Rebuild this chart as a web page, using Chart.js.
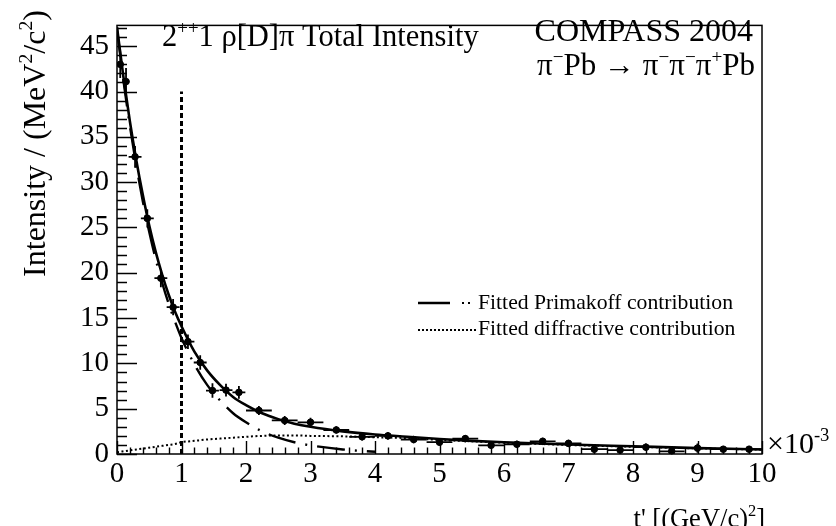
<!DOCTYPE html>
<html>
<head>
<meta charset="utf-8">
<script src="https://cdn.jsdelivr.net/npm/chart.js@4.4.1/dist/chart.umd.min.js"></script>
<style>
  body { margin: 0; background: #fff; }
  #c { display: block; }
</style>
</head>
<body>
<canvas id="c" width="836" height="526"></canvas>
<script>
// measured points, t' in units of 1e-3 (GeV/c)^2
const tValues = [0.05, 0.14, 0.28, 0.47, 0.68, 0.87, 1.1, 1.29, 1.48, 1.69, 1.89, 2.2, 2.6, 3.0, 3.4, 3.8,
  4.2, 4.6, 5.0, 5.4, 5.8, 6.2, 6.6, 7.0, 7.4, 7.8, 8.2, 8.6, 9.0, 9.4, 9.8];
const intensity = [43.0, 41.1, 32.8, 26.0, 19.4, 16.2, 12.4, 10.1, 7.0, 7.05, 6.8, 4.8, 3.7, 3.5, 2.65, 1.9,
  2.0, 1.6, 1.3, 1.7, 0.96, 1.07, 1.4, 1.17, 0.53, 0.43, 0.75, 0.3, 0.65, 0.53, 0.53];
const tErr = [0.05, 0.05, 0.1, 0.1, 0.1, 0.1, 0.1, 0.1, 0.1, 0.1, 0.1, 0.2, 0.2, 0.2, 0.2, 0.2,
  0.2, 0.2, 0.2, 0.2, 0.2, 0.2, 0.2, 0.2, 0.2, 0.2, 0.2, 0.2, 0.2, 0.2, 0.2];
const intensityErr = [1.5, 1.5, 1.2, 1.0, 1.0, 0.9, 0.8, 0.8, 0.8, 0.7, 0.7, 0.5, 0.5, 0.5, 0.4, 0.4,
  0.4, 0.4, 0.4, 0.4, 0.4, 0.4, 0.4, 0.4, 0.4, 0.35, 0.4, 0.35, 0.5, 0.35, 0.35];

// fitted curves
const fitT = [0, 0.1, 0.2, 0.3, 0.4, 0.5, 0.6, 0.7, 0.8, 0.9, 1.0, 1.2, 1.4, 1.6, 1.8, 2.0, 2.25, 2.5, 2.75,
  3.0, 3.5, 4.0, 4.5, 5.0, 5.5, 6.0, 7.0, 8.0, 9.0, 10.0];
const totalFit = [47.1, 41.6, 36.7, 32.4, 28.6, 25.2, 22.3, 19.8, 17.6, 15.7, 14.1, 11.3, 9.2, 7.6, 6.3, 5.4,
  4.5, 3.85, 3.35, 3.0, 2.5, 2.15, 1.9, 1.65, 1.45, 1.3, 1.05, 0.85, 0.65, 0.5];
const primakoffFit = [46.9, 41.2, 36.2, 31.8, 27.9, 24.5, 21.5, 18.9, 16.6, 14.6, 12.8, 9.9, 7.6, 5.9, 4.5,
  3.5, 2.5, 1.8, 1.3, 0.95, 0.5, 0.25];
const diffractiveFit = [0.2, 0.3, 0.4, 0.5, 0.6, 0.7, 0.8, 0.9, 1.0, 1.1, 1.3, 1.45, 1.6, 1.7, 1.8, 1.9, 2.0,
  2.05, 2.05, 2.0, 1.95, 1.85, 1.75, 1.55, 1.4, 1.25, 1.0, 0.8, 0.62, 0.48];

const xTicks = [0, 1, 2, 3, 4, 5, 6, 7, 8, 9, 10];
const yTicks = [0, 5, 10, 15, 20, 25, 30, 35, 40, 45];
const cutT = 1.0;
const cutTop = 40;

const serif = '"Liberation Serif", "DejaVu Serif", serif';

function toXY(xs, ys) {
  return ys.map((y, i) => ({ x: xs[i], y: y }));
}

// draw text with superscript pieces: parts = [[text, sup?], ...]
function drawRich(ctx, parts, x, y, size, align) {
  const small = size * 0.62;
  let w = 0;
  parts.forEach(p => {
    ctx.font = (p[1] ? small : size) + 'px ' + serif;
    w += ctx.measureText(p[0]).width;
  });
  let cx = align === 'right' ? x - w : x;
  ctx.textAlign = 'left';
  ctx.textBaseline = 'alphabetic';
  parts.forEach(p => {
    ctx.font = (p[1] ? small : size) + 'px ' + serif;
    ctx.fillText(p[0], cx, p[1] ? y - size * 0.4 : y);
    cx += ctx.measureText(p[0]).width;
  });
}

const rootStyle = {
  id: 'rootStyle',
  beforeDraw(chart) {
    const ctx = chart.ctx;
    ctx.save();
    ctx.fillStyle = '#fff';
    ctx.fillRect(0, 0, chart.width, chart.height);
    ctx.restore();
  },
  afterDatasetsDraw(chart) {
    const ctx = chart.ctx;
    const xs = chart.scales.x, ys = chart.scales.y;
    const a = chart.chartArea;
    ctx.save();
    ctx.strokeStyle = '#000';
    ctx.fillStyle = '#000';

    // error bars
    ctx.lineWidth = 1.8;
    tValues.forEach((t, i) => {
      const px = xs.getPixelForValue(t), py = ys.getPixelForValue(intensity[i]);
      ctx.beginPath();
      ctx.moveTo(xs.getPixelForValue(t - tErr[i]), py);
      ctx.lineTo(xs.getPixelForValue(t + tErr[i]), py);
      ctx.moveTo(px, ys.getPixelForValue(intensity[i] - intensityErr[i]));
      ctx.lineTo(px, ys.getPixelForValue(intensity[i] + intensityErr[i]));
      ctx.stroke();
    });

    // frame
    ctx.lineWidth = 1.5;
    ctx.strokeRect(a.left, a.top, a.right - a.left, a.bottom - a.top);

    // inner ticks
    ctx.lineWidth = 1.4;
    ctx.beginPath();
    for (let v = 0; v <= 10.001; v += 0.2) {
      const major = Math.abs(v - Math.round(v)) < 1e-6;
      const px = Math.round(xs.getPixelForValue(v)) + 0.5;
      ctx.moveTo(px, a.bottom);
      ctx.lineTo(px, a.bottom - (major ? 13 : 6.5));
    }
    for (let v = 0; v <= ys.max; v += 1) {
      const major = v % 5 === 0;
      const py = Math.round(ys.getPixelForValue(v)) + 0.5;
      ctx.moveTo(a.left, py);
      ctx.lineTo(a.left + (major ? 20 : 10), py);
    }
    ctx.stroke();

    // texts
    drawRich(ctx, [['2'], ['++', 1], ['1 ρ[D]π Total Intensity']], 162, 46, 30.5, 'left');
    drawRich(ctx, [['COMPASS 2004']], 753, 41, 32, 'right');
    drawRich(ctx, [['π'], ['−', 1], ['Pb → π'], ['−', 1], ['π'], ['−', 1], ['π'], ['+', 1], ['Pb']], 755, 75, 31, 'right');
    drawRich(ctx, [['×10'], ['-3', 1]], 767, 453, 30, 'left');
    drawRich(ctx, [["t' [(GeV/c)"], ['2', 1], [']']], 765, 527, 26.5, 'right');

    // y title, rotated
    ctx.save();
    ctx.translate(45, 10);
    ctx.rotate(-Math.PI / 2);
    drawRich(ctx, [['Intensity / (MeV'], ['2', 1], ['/c'], ['2', 1], [')']], 0, 0, 32, 'right');
    ctx.restore();

    // legend
    ctx.lineWidth = 2.5;
    ctx.setLineDash([]);
    ctx.beginPath();
    ctx.moveTo(418, 303); ctx.lineTo(450, 303);
    ctx.stroke();
    ctx.fillRect(462, 302, 2, 2);
    ctx.fillRect(468, 302, 2, 2);
    ctx.lineWidth = 2;
    ctx.setLineDash([2, 2]);
    ctx.beginPath();
    ctx.moveTo(418, 330); ctx.lineTo(476, 330);
    ctx.stroke();
    ctx.setLineDash([]);
    drawRich(ctx, [['Fitted Primakoff contribution']], 478, 309, 21.7, 'left');
    drawRich(ctx, [['Fitted diffractive contribution']], 478, 335, 21.7, 'left');
    ctx.restore();
  }
};

new Chart(document.getElementById('c'), {
  type: 'scatter',
  data: {
    datasets: [
      {
        label: 'Total',
        data: toXY(fitT, totalFit),
        showLine: true,
        borderColor: '#000',
        borderWidth: 2.6,
        pointRadius: 0,
        cubicInterpolationMode: 'monotone'
      },
      {
        label: 'Fitted Primakoff contribution',
        data: toXY(fitT, primakoffFit),
        showLine: true,
        borderColor: '#000',
        borderWidth: 2.4,
        borderDash: [28, 10, 2, 10],
        pointRadius: 0,
        cubicInterpolationMode: 'monotone'
      },
      {
        label: 'Fitted diffractive contribution',
        data: toXY(fitT, diffractiveFit),
        showLine: true,
        borderColor: '#000',
        borderWidth: 2,
        borderDash: [2, 2.5],
        pointRadius: 0,
        cubicInterpolationMode: 'monotone'
      },
      {
        label: 'cut',
        data: [{ x: cutT, y: 0 }, { x: cutT, y: cutTop }],
        showLine: true,
        borderColor: '#000',
        borderWidth: 3,
        borderDash: [5, 3],
        pointRadius: 0
      },
      {
        label: 'Data',
        data: toXY(tValues, intensity),
        backgroundColor: '#000',
        borderColor: '#000',
        pointRadius: 3.3,
        pointStyle: 'circle'
      }
    ]
  },
  options: {
    responsive: false,
    animation: false,
    devicePixelRatio: 1,
    layout: { padding: { top: 12, right: 74, left: 0, bottom: 0 } },
    plugins: { legend: { display: false }, tooltip: { enabled: false } },
    scales: {
      x: {
        type: 'linear',
        min: 0,
        max: 10,
        grid: { display: false, drawTicks: false },
        border: { display: false },
        afterBuildTicks: s => { s.ticks = xTicks.map(v => ({ value: v })); },
        afterFit: s => { s.height = 72; },
        ticks: { color: '#000', padding: 3, maxRotation: 0, font: { family: serif, size: 29 } }
      },
      y: {
        type: 'linear',
        min: 0,
        max: 47.3,
        grid: { display: false, drawTicks: false },
        border: { display: false },
        afterBuildTicks: s => { s.ticks = yTicks.map(v => ({ value: v })); },
        afterFit: s => { s.width = 117; },
        ticks: { color: '#000', padding: 8, font: { family: serif, size: 29 } }
      }
    }
  },
  plugins: [rootStyle]
});
</script>
</body>
</html>
